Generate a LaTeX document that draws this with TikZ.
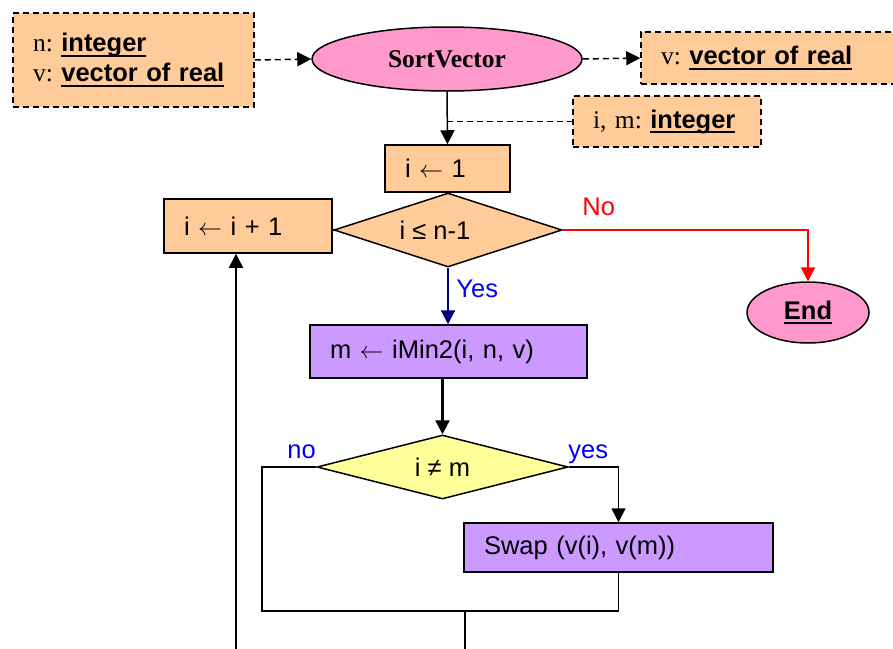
\documentclass[tikz,border=0pt]{standalone}
\usepackage{fontspec}
\setmainfont{Liberation Serif}
\setsansfont{Liberation Sans}
\usetikzlibrary{shapes.geometric,arrows.meta}

\definecolor{peach}{HTML}{FFCC99}
\definecolor{pinkfill}{HTML}{FF99CC}
\definecolor{lilac}{HTML}{CC99FF}
\definecolor{paleyellow}{HTML}{FFFF99}
\definecolor{navyline}{HTML}{000080}
\definecolor{labelblue}{HTML}{0000FF}
\definecolor{nored}{HTML}{FF0000}

\frenchspacing

% bold sans type name with a heavy underline
\newcommand\ulbf[1]{\sbox0{\sffamily\bfseries #1}\rlap{\rule[-2.6pt]{\wd0}{1pt}}\usebox0}

\tikzset{
  txt/.style={font=\sffamily\fontsize{12.75}{15}\selectfont},
  boxbase/.style={txt, draw, rectangle, line width=0.75pt, inner xsep=10pt, inner ysep=0pt, align=left},
  declbox/.style={boxbase, fill=peach, dash pattern=on 3pt off 2pt},
  assignbox/.style={boxbase, fill=peach},
  callbox/.style={boxbase, fill=lilac},
  decision/.style={txt, draw, diamond, aspect=3, inner sep=0pt, line width=0.75pt},
  terminal/.style={draw, ellipse, inner sep=0pt, line width=0.75pt, fill=pinkfill},
  flow/.style={line width=0.75pt},
  tip/.style={-{Triangle[length=7pt,width=7pt]}},
  dashlink/.style={flow, dash pattern=on 3pt off 2pt},
  lbl/.style={txt, inner sep=0pt, anchor=base west},
}

\begin{document}
\begin{tikzpicture}[x=0.5pt,y=-0.5pt]
\clip (0,0) rectangle (893,648);

% declarations and the procedure head
\node[declbox, text width=100.5pt, minimum height=47pt] (inargs) at (133.5,60)
  {\rmfamily n: \ulbf{integer}\\ \rmfamily v: \ulbf{vector of real}};
\node[terminal, minimum width=135pt, minimum height=32pt,
      font=\rmfamily\bfseries\fontsize{12.75}{15}\selectfont] (sort) at (447,59) {SortVector};
\node[declbox, text width=112pt, minimum height=26pt] (outargs) at (773,58)
  {\rmfamily v: \ulbf{vector of real}};
\node[declbox, text width=74pt, minimum height=25.5pt] (locals) at (667,121.5)
  {\rmfamily i, m: \ulbf{integer}};

% outer loop
\node[assignbox, text width=42.5pt, minimum height=23.5pt] (init) at (447.5,168.5)
  {i \ensuremath{\leftarrow} 1};
\node[decision, fill=peach, minimum width=114pt, minimum height=37pt] (cond1) at (448,230)
  {i ≤ n-1\kern13pt};
\node[assignbox, text width=64pt, minimum height=27pt] (inc) at (248,226)
  {i \ensuremath{\leftarrow} i + 1};
\node[terminal, minimum width=61pt, minimum height=30.5pt, txt] (endn) at (808,312.5)
  {\ulbf{End}};

% loop body
\node[callbox, text width=118.5pt, minimum height=26.5pt] (mbox) at (448.5,351.5)
  {m \ensuremath{\leftarrow} iMin2(i, n, v)};
\node[decision, fill=paleyellow, minimum width=125.5pt, minimum height=32pt] (cond2) at (442.5,467)
  {i ≠ m};
\node[callbox, text width=134.5pt, minimum height=24.5pt] (swap) at (618.5,547.5)
  {Swap (v(i), v(m))};

% branch labels
\node[lbl, text=nored] (nolbl) at (582,215) {No};
\node[lbl, text=labelblue] (yeslbl) at (456,297) {Yes};
\node[lbl, text=labelblue] (nolbl2) at (287,458) {no};
\node[lbl, text=labelblue] (yeslbl2) at (568,458) {yes};

% free ends of the connectors
\coordinate (joinL) at (262,611);
\coordinate (join) at (465,611);
\coordinate (exit) at (465,660);
\coordinate (loopin) at (236,660);
\coordinate (tap) at (447,121.5);

% connectors
\draw[dashlink, tip] (inargs.east) -- (sort.west);
\draw[dashlink, tip] (sort.east) -- (outargs.west);
\draw[flow, tip] (sort.south) -- (init.north);
\draw[dashlink] (tap) -- (locals.west);
\draw[flow] (cond1.west) -- (inc.east |- cond1.west);
\draw[line width=1pt, nored, tip] (cond1.east) -| (endn.north);
\draw[line width=1pt, navyline, tip] (cond1.south) -- (cond1.south |- mbox.north);
\draw[line width=1.2pt, tip] (cond2.north |- mbox.south) -- (cond2.north);
\draw[flow, tip] (cond2.east) -| (swap.north);
\draw[flow] (cond2.west) -| (joinL) -- (swap.south |- joinL) -- (swap.south);
\draw[flow] (join) -- (exit);
\draw[flow, tip] (loopin) -- (loopin |- inc.south);
\end{tikzpicture}
\end{document}
